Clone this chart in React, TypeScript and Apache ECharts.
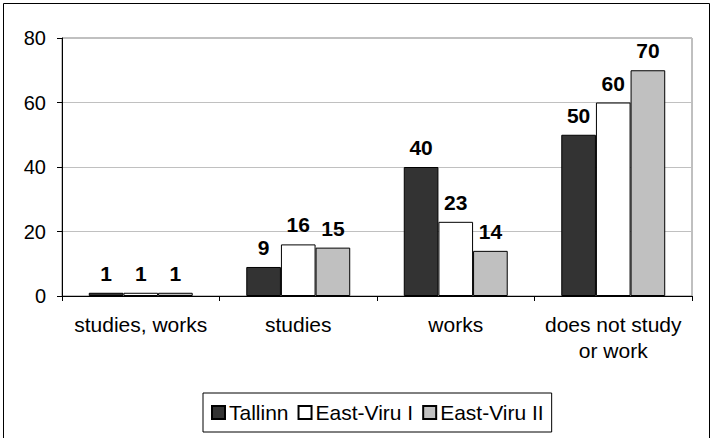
import React, { useEffect, useRef } from "react";
import * as echarts from "echarts";

const categories = ["studies, works", "studies", "works", "does not study\nor work"];
const seriesNames = ["Tallinn", "East-Viru I", "East-Viru II"];
const tallinn = [1, 9, 40, 50];
const eastViruI = [1, 16, 23, 60];
const eastViruII = [1, 15, 14, 70];
const yTicks = { min: 0, max: 80, interval: 20 };
const colors = ["#333333", "#ffffff", "#c0c0c0"];

const FONT = "'Liberation Sans', Arial, sans-serif";

export default function App() {
  const ref = useRef<HTMLDivElement>(null);
  useEffect(() => {
    if (!ref.current) return;
    const chart = echarts.init(ref.current, null, { renderer: "svg" });
    const data = [tallinn, eastViruI, eastViruII];
    chart.setOption({
      animation: false,
      backgroundColor: "#ffffff",
      textStyle: { fontFamily: FONT },
      grid: {
        left: 62,
        right: 19,
        top: 38,
        bottom: 142,
        show: true,
        borderColor: "#808080",
        borderWidth: 1,
        containLabel: false,
      },
      xAxis: {
        type: "category",
        data: categories,
        axisLine: { lineStyle: { color: "#000", width: 1 } },
        axisTick: { show: true, length: 5, lineStyle: { color: "#000" } },
        axisLabel: {
          color: "#000",
          fontSize: 21,
          fontFamily: FONT,
          margin: 15,
          lineHeight: 26,
          interval: 0,
        },
      },
      yAxis: {
        type: "value",
        min: yTicks.min,
        max: yTicks.max,
        interval: yTicks.interval,
        axisLine: { show: true, lineStyle: { color: "#000", width: 1 } },
        axisTick: { show: true, length: 5, lineStyle: { color: "#000" } },
        axisLabel: { color: "#000", fontSize: 20, fontFamily: FONT, margin: 16 },
        splitLine: { show: true, lineStyle: { color: "#c0c0c0", width: 1 } },
      },
      legend: {
        left: 203,
        top: 393,
        orient: "horizontal",
        data: seriesNames,
        icon: "rect",
        itemWidth: 13,
        itemHeight: 13,
        itemGap: 9,
        padding: [9, 8],
        borderColor: "#000",
        borderWidth: 1,
        textStyle: { color: "#000", fontSize: 21, fontFamily: FONT, padding: [0, 0, 0, -1] },
      },
      series: seriesNames.map((name, i) => ({
        name,
        type: "bar",
        data: data[i],
        barGap: "0%",
        barCategoryGap: "34%",
        itemStyle: { color: colors[i], borderColor: "#000", borderWidth: 1 },
        label: {
          show: true,
          position: "top",
          distance: 9,
          color: "#000",
          fontWeight: "bold",
          fontSize: 21,
          fontFamily: FONT,
        },
      })),
      graphic: [
        {
          type: "rect",
          shape: { x: 3.5, y: 3.5, width: 706, height: 440 },
          style: { fill: "none", stroke: "#000", lineWidth: 1 },
          silent: true,
          z: 100,
        },
      ],
    });
    return () => chart.dispose();
  }, []);
  return (
    <div
      ref={ref}
      style={{ position: "fixed", left: 0, top: 0, width: 711, height: 438 }}
    />
  );
}
